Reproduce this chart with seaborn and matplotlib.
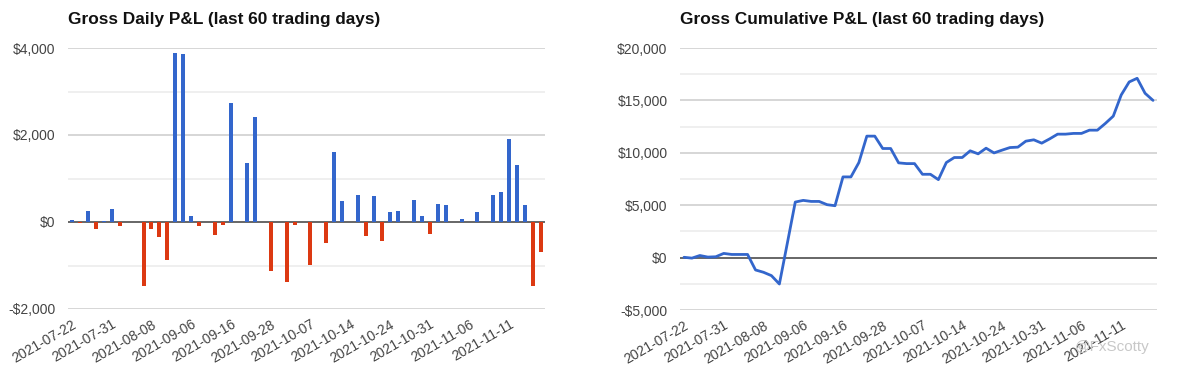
"""
Gross daily and cumulative P&L over the last 60 trading days.
"""

import numpy as np
import pandas as pd
import seaborn as sns
import matplotlib.pyplot as plt
from matplotlib.ticker import FuncFormatter, MultipleLocator

# daily gross P&L, one value per trading day
daily_pnl = [
    40, -30, 250, -160, 30, 300, -100, 0, 0, -1480,
    -160, -340, -875, 3890, 3865, 145, -90, 0, -300, -70,
    2745, 0, 1365, 2420, 0, -1130, 0, -1390, -60, 0,
    -980, 0, -490, 1610, 475, 0, 620, -315, 590, -440,
    220, 255, 10, 505, 130, -270, 420, 390, 0, 60,
    0, 220, 0, 620, 690, 1915, 1320, 390, -1480, -690,
]

# cumulative gross P&L
cumulative_pnl = [
    30, -50, 200, 50, 80, 400, 300, 300, 300, -1180,
    -1400, -1720, -2520, 1370, 5300, 5460, 5360, 5360, 5050, 4950,
    7700, 7700, 9070, 11590, 11590, 10410, 10410, 9040, 8970, 8970,
    7950, 7950, 7440, 9070, 9550, 9550, 10190, 9900, 10440, 9990,
    10250, 10500, 10540, 11110, 11240, 10920, 11330, 11780, 11780, 11850,
    11850, 12160, 12160, 12800, 13500, 15520, 16760, 17110, 15680, 15000,
]

tick_labels = [
    "2021-07-22", "2021-07-31", "2021-08-08", "2021-09-06",
    "2021-09-16", "2021-09-28", "2021-10-07", "2021-10-14",
    "2021-10-24", "2021-10-31", "2021-11-06", "2021-11-11",
]

BLUE = "#3366cc"
RED = "#dc3912"
TEXT = "#444444"

sns.set_style("white")
plt.rcParams["font.family"] = ["Liberation Sans", "DejaVu Sans"]


def money(value, _pos):
    if value < 0:
        return f"-${abs(value):,.0f}"
    return f"${value:,.0f}"


def style_axis(ax, major, minor, low, high, title):
    ax.set_ylim(low, high)
    ax.set_xlim(-0.5, len(daily_pnl) - 0.5)
    ax.yaxis.set_major_locator(MultipleLocator(major))
    ax.yaxis.set_minor_locator(MultipleLocator(minor))
    ax.yaxis.set_major_formatter(FuncFormatter(money))
    ax.grid(True, axis="y", which="major", color="#cccccc", linewidth=1.1)
    ax.grid(True, axis="y", which="minor", color="#ebebeb", linewidth=1.1)
    ax.set_axisbelow(True)
    ax.axhline(0, color="#555555", linewidth=1.2, zorder=1.5)
    for spine in ax.spines.values():
        spine.set_visible(False)

    ax.set_xticks(range(0, len(daily_pnl), 5))
    ax.set_xticklabels(tick_labels, rotation=30, ha="right",
                       rotation_mode="anchor")
    ax.tick_params(axis="both", which="both", length=0, labelsize=10,
                   labelcolor=TEXT)
    ax.tick_params(axis="y", pad=9)
    ax.tick_params(axis="x", pad=6)
    ax.set_xlabel("")
    ax.set_ylabel("")
    ax.set_title(title, loc="left", fontsize=12.4, fontweight="bold",
                 color="#111111", pad=17)


def main() -> None:
    days = np.arange(len(daily_pnl))
    frame = pd.DataFrame({
        "day": days,
        "pnl": daily_pnl,
        "cum": cumulative_pnl,
    })
    frame["sign"] = np.where(frame["pnl"] >= 0, "gain", "loss")

    fig = plt.figure(figsize=(11.83, 3.74), dpi=100)
    ax_daily = fig.add_axes([68 / 1183, 1 - 309 / 374, 477 / 1183, 261 / 374])
    ax_cum = fig.add_axes([680 / 1183, 1 - 310 / 374, 477 / 1183, 262 / 374])

    sns.barplot(
        data=frame, x="day", y="pnl", hue="sign",
        palette={"gain": BLUE, "loss": RED},
        dodge=False, width=0.5, legend=False, ax=ax_daily,
        saturation=1, linewidth=0, zorder=2,
    )
    style_axis(ax_daily, 2000, 1000, -2000, 4000,
               "Gross Daily P&L (last 60 trading days)")

    sns.lineplot(data=frame, x="day", y="cum", color=BLUE, linewidth=2,
                 ax=ax_cum, zorder=3)
    style_axis(ax_cum, 5000, 2500, -5000, 20000,
               "Gross Cumulative P&L (last 60 trading days)")

    fig.text(1112 / 1183, 1 - 347 / 374, "@FxScotty", fontsize=11,
             color="#c8c8c8", ha="center", va="center")

    fig.savefig("out.png", dpi=100)


if __name__ == "__main__":
    main()
